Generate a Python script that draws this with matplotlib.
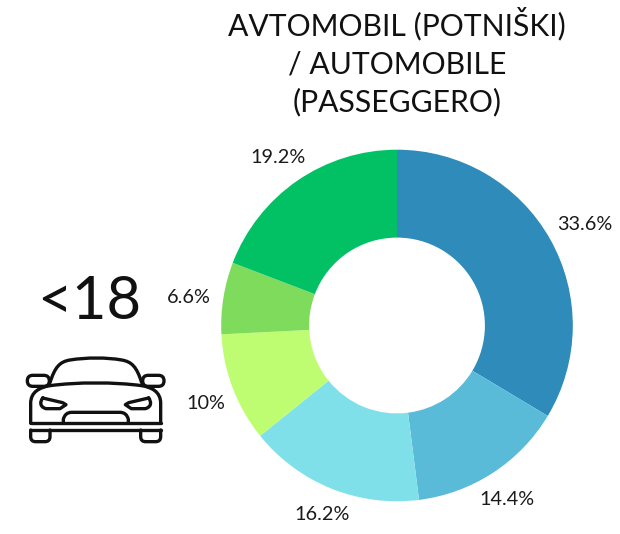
import matplotlib
matplotlib.use("Agg")
import matplotlib.pyplot as plt
import numpy as np
from matplotlib.path import Path
from matplotlib.patches import PathPatch, FancyBboxPatch

plt.rcParams['font.family'] = ['Lato', 'DejaVu Sans']

values = [33.6, 14.4, 16.2, 10, 6.6, 19.2]
labels = ['33.6%', '14.4%', '16.2%', '10%', '6.6%', '19.2%']
colors = ['#2E8BBA', '#5ABBD8', '#80E0EA', '#BEFD72', '#7FDB5C', '#02C165']
title = 'AVTOMOBIL (POTNIŠKI)\n/ AUTOMOBILE\n(PASSEGGERO)'
age_label = '<18'
label_radii = [1.214, 1.171, 1.158, 1.174, 1.194, 1.171]
label_turn_deg = [-1.3, -0.8, 0.4, 1.3, 1.3, 0.7]

W, H = 620, 534
fig = plt.figure(figsize=(W / 100, H / 100), dpi=100, facecolor='white')

# Doughnut
cx, cy, R = 397, 325.5, 175.8
ax = fig.add_axes([(cx - R) / W, 1 - (cy + R) / H, 2 * R / W, 2 * R / H])
wedges, texts = ax.pie(values, colors=colors, startangle=90, counterclock=False, radius=1.0,
                       labels=labels,
                       textprops={'fontsize': 14.3, 'color': '#1a1a1a', 'clip_on': False},
                       wedgeprops={'width': 0.5, 'linewidth': 0})
for w, t, r, d in zip(wedges, texts, label_radii, label_turn_deg):
    ang = np.deg2rad((w.theta1 + w.theta2) / 2 + d)
    t.set_position((r * np.cos(ang), r * np.sin(ang)))
    t.set_ha('center')
    t.set_va('center')
ax.set_xlim(-1, 1)
ax.set_ylim(-1, 1)
ax.set_aspect('equal')

# Overlay in pixel coordinates for text and icon
ov = fig.add_axes([0, 0, 1, 1], facecolor='none')
ov.set_xlim(0, W)
ov.set_ylim(H, 0)
ov.axis('off')
ov.text(397, 62, title, ha='center', va='center', fontsize=21.7, color='#111111',
        linespacing=1.42)
ov.text(89, 302, age_label, ha='center', va='center', fontsize=43, color='#111111')


def z(x, y):
    return (10 + x / 3, 260 + y / 3)


def curve(points, codes):
    return Path([z(*p) for p in points], codes)


M, L, C3, C4 = Path.MOVETO, Path.LINETO, Path.CURVE3, Path.CURVE4
lw = 2.4
style = dict(fill=False, edgecolor='#111111', linewidth=lw, capstyle='round', joinstyle='round')
paths = [
    # roof and windshield
    curve([(120, 368), (135, 320), (150, 305), (180, 300), (230, 292), (290, 292), (335, 300),
           (365, 305), (380, 320), (395, 368)],
          [M, C4, C4, C4, C4, C4, C4, C4, C4, C4]),
    # body
    curve([(62, 490), (62, 430), (62, 395), (90, 382), (120, 377), (200, 366), (315, 366),
           (395, 377), (425, 382), (452, 395), (452, 430), (452, 490)],
          [M, L, C4, C4, C4, C4, C4, C4, C4, C4, C4, L]),
    # bumper bands
    curve([(62, 490), (452, 490)], [M, L]),
    curve([(62, 510), (452, 510)], [M, L]),
    # wheels
    curve([(62, 510), (62, 530), (62, 545), (77, 545), (105, 545), (120, 545), (120, 530), (120, 510)],
          [M, L, C3, C3, L, C3, C3, L]),
    curve([(392, 510), (392, 530), (392, 545), (407, 545), (437, 545), (452, 545), (452, 530), (452, 510)],
          [M, L, C3, C3, L, C3, C3, L]),
    # grille
    curve([(160, 490), (160, 478), (165, 457), (185, 457), (330, 457), (350, 457), (355, 478), (355, 490)],
          [M, L, C3, C3, L, C3, C3, L]),
    # headlights
    curve([(98, 414), (158, 428), (168, 434), (150, 446), (108, 446), (88, 440), (90, 425), (98, 414)],
          [M, L, L, L, L, C4, C4, C4]),
    curve([(416, 414), (356, 428), (346, 434), (364, 446), (406, 446), (426, 440), (424, 425), (416, 414)],
          [M, L, L, L, L, C4, C4, C4]),
]
for p in paths:
    ov.add_patch(PathPatch(p, **style))

for x0, x1 in [(52, 118), (398, 462)]:
    a = z(x0, 346)
    b = z(x1, 379)
    ov.add_patch(FancyBboxPatch((a[0] + 4, a[1] + 4), b[0] - a[0] - 8, b[1] - a[1] - 8,
                                boxstyle='round,pad=4,rounding_size=5.5', **style))

fig.savefig('out.png', dpi=100, facecolor='white')
